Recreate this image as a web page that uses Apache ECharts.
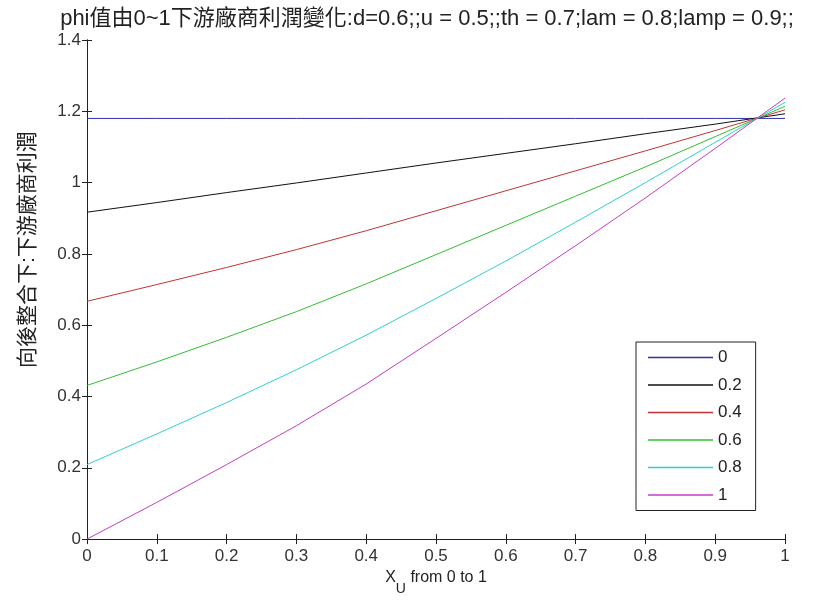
<!DOCTYPE html>
<html>
<head>
<meta charset="utf-8">
<script src="https://cdn.jsdelivr.net/npm/echarts@6/dist/echarts.min.js"></script>
<style>
  html, body { margin: 0; padding: 0; background: #fff; }
  #chart { width: 814px; height: 601px; }
</style>
</head>
<body>
<div id="chart"></div>
<script>
// x_U sample points
const xU = [0, 0.1, 0.2, 0.3, 0.4, 0.5, 0.6, 0.7, 0.8, 0.9, 1.0];

// downstream profit for each phi value
const phi0   = [1.18, 1.18, 1.18, 1.18, 1.18, 1.18, 1.18, 1.18, 1.18, 1.18, 1.18];
const phi02  = [0.917, 0.944, 0.972, 0.999, 1.027, 1.055, 1.082, 1.109, 1.137, 1.164, 1.193];
const phi04  = [0.667, 0.714, 0.762, 0.812, 0.865, 0.921, 0.977, 1.033, 1.089, 1.146, 1.204];
const phi06  = [0.431, 0.497, 0.566, 0.638, 0.716, 0.798, 0.880, 0.962, 1.044, 1.129, 1.214];
const phi08  = [0.209, 0.295, 0.383, 0.475, 0.572, 0.675, 0.780, 0.889, 1.000, 1.113, 1.225];
const phi10  = [0.000, 0.103, 0.209, 0.318, 0.435, 0.563, 0.692, 0.823, 0.957, 1.096, 1.237];

const legendNames = ['0', '0.2', '0.4', '0.6', '0.8', '1'];
const lineColors = ['#2f2fb0', '#111111', '#c03434', '#2fc02f', '#2fd0d0', '#c43cc4'];

const xTicks = { min: 0, max: 1, interval: 0.1 };
const yTicks = { min: 0, max: 1.4, interval: 0.2 };

const font = "'Liberation Sans', 'Noto Sans CJK TC', sans-serif";
const axisColor = '#222';

const seriesValues = [phi0, phi02, phi04, phi06, phi08, phi10];

const chart = echarts.init(document.getElementById('chart'), null, { renderer: 'canvas' });

const series = seriesValues.map((vals, i) => ({
  name: legendNames[i],
  type: 'line',
  data: xU.map((x, j) => [x, vals[j]]),
  symbol: 'none',
  showSymbol: false,
  smooth: false,
  lineStyle: { width: 1, color: lineColors[i] },
  itemStyle: { color: lineColors[i] }
}));

const boxAxis = (extra) => Object.assign({
  type: 'value',
  axisLine: { show: true, lineStyle: { color: axisColor, width: 1 } },
  axisTick: { show: true, inside: true, length: 5, lineStyle: { color: axisColor } },
  axisLabel: { show: false },
  splitLine: { show: false }
}, extra);

const tickFormat = (v) => String(Math.round(v * 10) / 10);

chart.setOption({
  backgroundColor: '#ffffff',
  animation: false,
  title: {
    text: 'phi值由0~1下游廠商利潤變化:d=0.6;;u = 0.5;;th = 0.7;lam = 0.8;lamp = 0.9;;',
    left: 422,
    textAlign: 'center',
    top: 3,
    textStyle: { fontFamily: font, fontSize: 22, fontWeight: 'normal', color: '#222' }
  },
  grid: { left: 87, right: 29, top: 40, bottom: 59, containLabel: false },
  legend: {
    data: legendNames,
    orient: 'vertical',
    left: 636,
    top: 342,
    padding: [7, 14, 7, 12],
    icon: 'rect',
    itemWidth: 65,
    itemHeight: 1.6,
    itemGap: 10.5,
    backgroundColor: '#ffffff',
    borderColor: '#222',
    borderWidth: 1,
    borderRadius: 0,
    textStyle: { fontFamily: font, fontSize: 17, color: '#222' }
  },
  xAxis: [
    boxAxis({
      position: 'bottom',
      min: xTicks.min, max: xTicks.max, interval: xTicks.interval,
      name: '{x|X}{u|U}{t| from 0 to 1}',
      nameLocation: 'middle',
      nameGap: 30,
      nameTextStyle: {
        rich: {
          x: { fontFamily: font, fontSize: 16, color: '#222', verticalAlign: 'top' },
          u: { fontFamily: font, fontSize: 14, color: '#222', padding: [12, 0, 0, 0], verticalAlign: 'top' },
          t: { fontFamily: font, fontSize: 16, color: '#222', verticalAlign: 'top' }
        }
      },
      axisLabel: { show: true, margin: 9, fontFamily: font, fontSize: 17, color: '#333', formatter: tickFormat }
    }),
    boxAxis({ position: 'top', min: xTicks.min, max: xTicks.max, interval: xTicks.interval })
  ],
  yAxis: [
    boxAxis({
      position: 'left',
      min: yTicks.min, max: yTicks.max, interval: yTicks.interval,
      name: '向後整合下:下游廠商利潤',
      nameLocation: 'middle',
      nameGap: 48,
      nameRotate: 90,
      nameTextStyle: { fontFamily: font, fontSize: 21, color: '#222', padding: [0, 0, 0, 80] },
      axisLabel: { show: true, margin: 6, fontFamily: font, fontSize: 17, color: '#333', formatter: tickFormat }
    }),
    boxAxis({ position: 'right', min: yTicks.min, max: yTicks.max, interval: yTicks.interval })
  ],
  series: series
});
</script>
</body>
</html>
